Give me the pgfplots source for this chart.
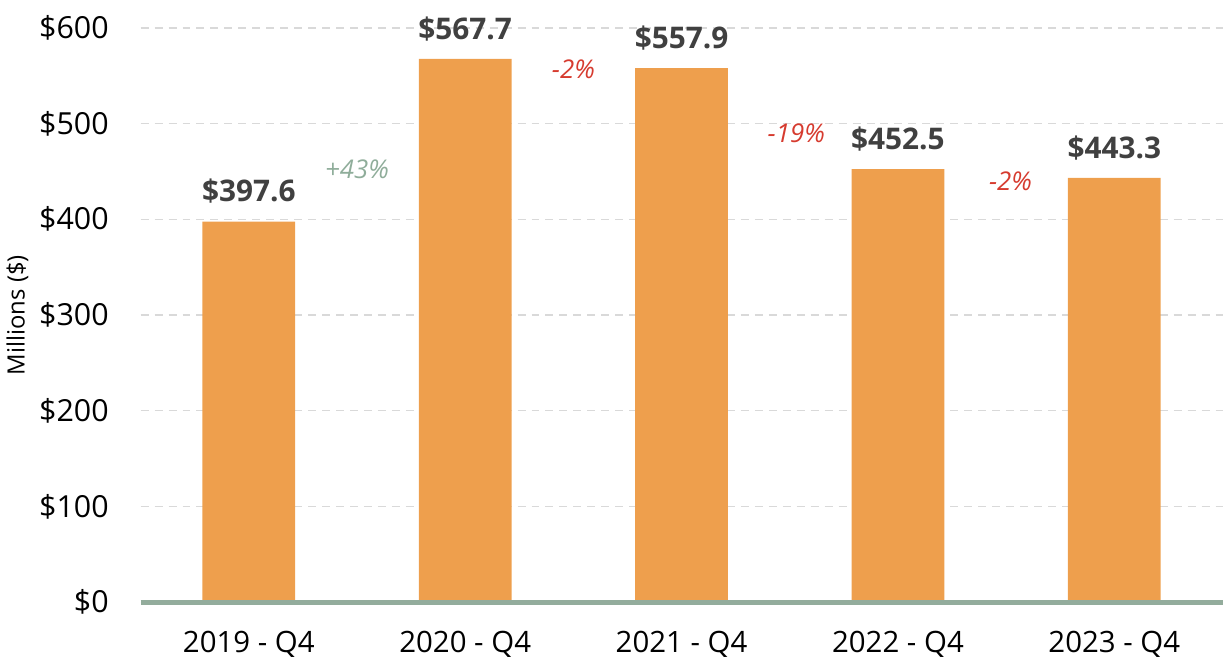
\documentclass[border=0pt]{standalone}
\usepackage{fontspec}
\setmainfont{Open Sans}
\usepackage{pgfplots}
\pgfplotsset{compat=1.18}
\definecolor{barc}{HTML}{EE9F4D}
\definecolor{axc}{HTML}{93AC9C}
\definecolor{labc}{HTML}{404040}
\definecolor{negc}{HTML}{D63B2F}
\definecolor{posc}{HTML}{8FAD9A}
\definecolor{gridc}{HTML}{D9D9D9}
\begin{document}
\begin{tikzpicture}
\begin{axis}[
  scale only axis, width=542.5bp, height=288bp,
  xmin=-0.5, xmax=4.5, ymin=0, ymax=600,
  axis line style={draw=none},
  ytick={0,100,...,600},
  ymajorgrids, grid style={gridc, line width=0.7bp, dash pattern=on 4bp off 3bp},
  major tick length=0pt,
  xtick=data,
  xticklabels={2019 - Q4,2020 - Q4,2021 - Q4,2022 - Q4,2023 - Q4},
  yticklabel={\$\pgfmathprintnumber{\tick}},
  /pgf/number format/assume math mode=true,
  tick label style={font=\fontsize{14.8}{16}\selectfont, black},
  yticklabel style={font=\fontsize{15.3}{16}\selectfont, xshift=-12.5bp},
  xticklabel style={yshift=-11bp},
  ylabel={Millions (\$)},
  ylabel style={font=\fontsize{12}{14}\selectfont, yshift=-1.5bp},
  ybar, bar width=46.5bp,
  nodes near coords={\$\pgfmathprintnumber[fixed,precision=1,fixed zerofill]{\pgfplotspointmeta}},
  nodes near coords style={font=\bfseries\fontsize{15}{16}\selectfont, labc, yshift=5.5bp},
  clip=false,
]
\addplot[fill=barc, draw=none] coordinates {(0,397.6) (1,567.7) (2,557.9) (3,452.5) (4,443.3)};
\draw[axc, line width=2.5bp] (rel axis cs:0,0) -- (rel axis cs:1,0);
\path (rel axis cs:0,1) ++(0,14bp);
\node[font=\itshape\fontsize{13}{15}\selectfont, text=posc] at (axis cs:0.5,452) {+43\%};
\node[font=\itshape\fontsize{13}{15}\selectfont, text=negc] at (axis cs:1.5,557) {-2\%};
\node[font=\itshape\fontsize{13}{15}\selectfont, text=negc] at (axis cs:2.53,490) {-19\%};
\node[font=\itshape\fontsize{13}{15}\selectfont, text=negc] at (axis cs:3.52,440) {-2\%};
\end{axis}
\end{tikzpicture}
\end{document}
